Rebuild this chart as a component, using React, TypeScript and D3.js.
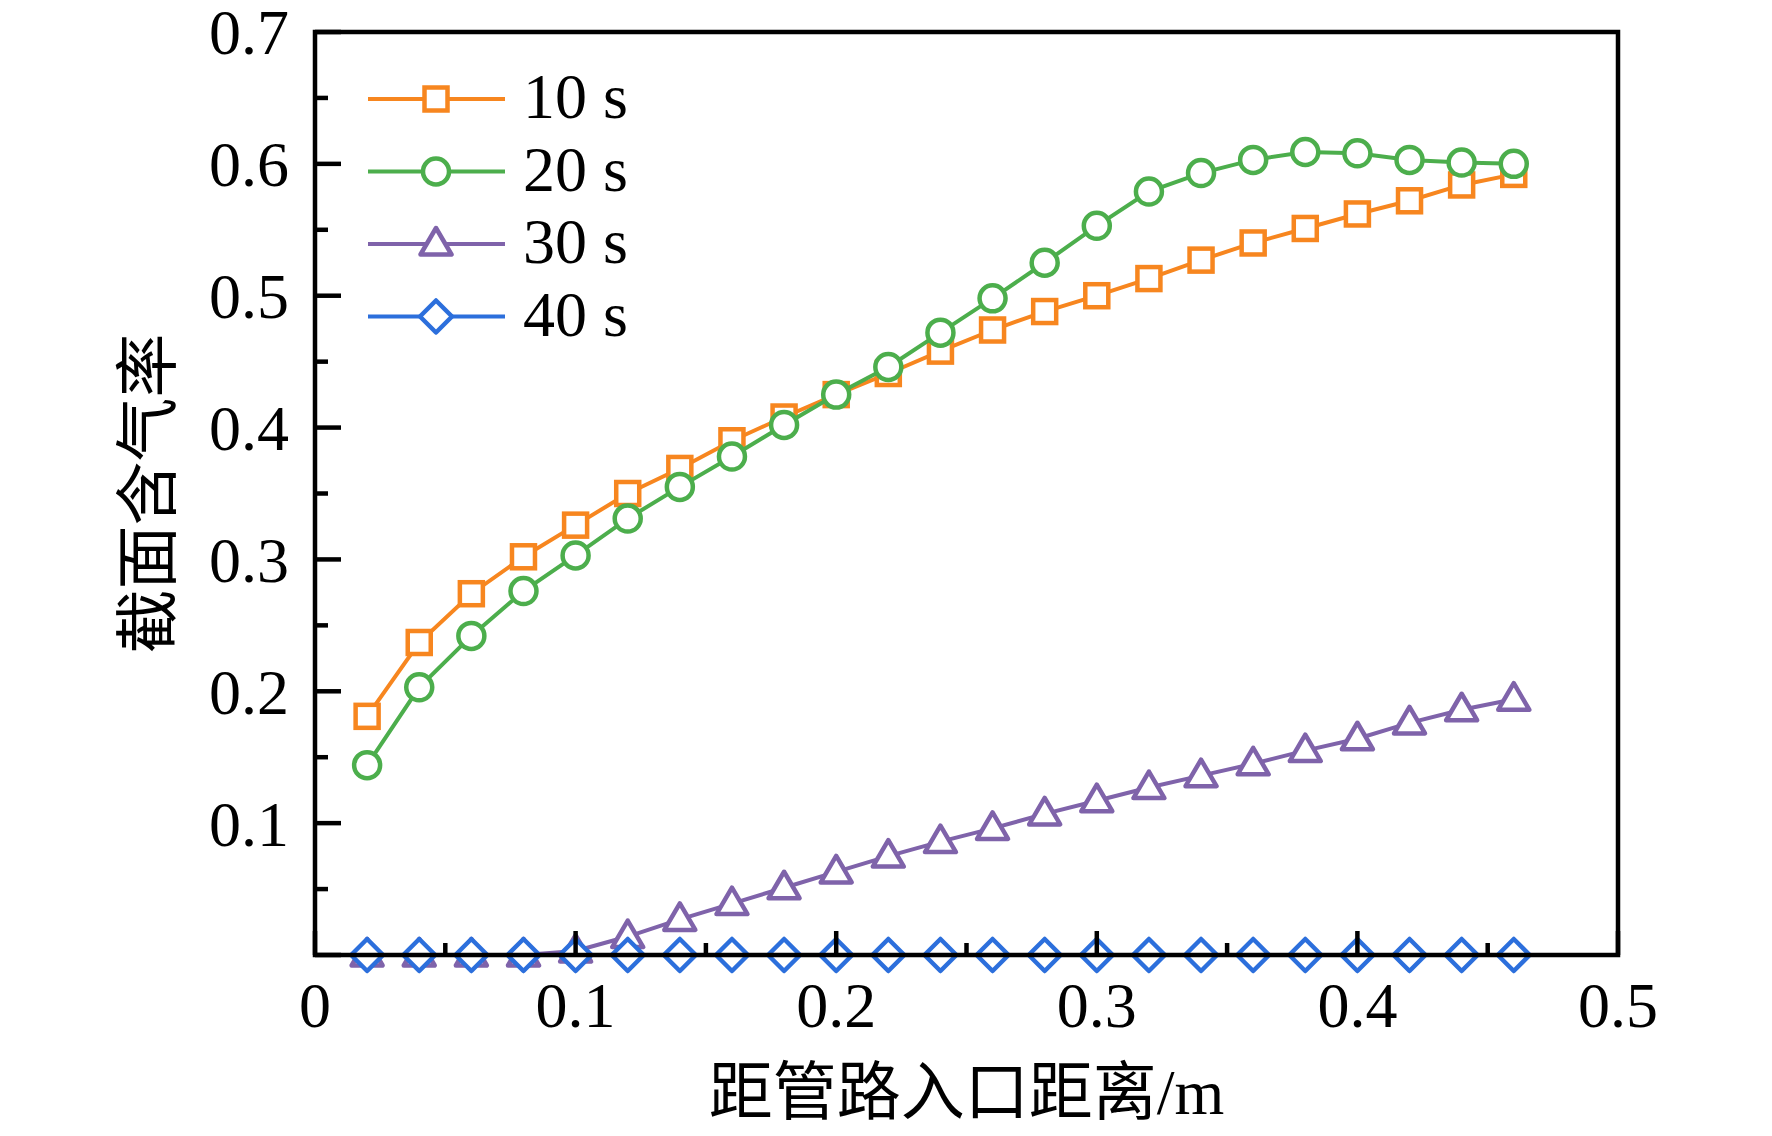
import { useEffect, useRef } from "react";
import * as d3 from "d3";

const distances = [
  0.02, 0.04, 0.06, 0.08, 0.1, 0.12, 0.14, 0.16, 0.18, 0.2, 0.22, 0.24,
  0.26, 0.28, 0.3, 0.32, 0.34, 0.36, 0.38, 0.4, 0.42, 0.44, 0.46,
];
const voidAt10s = [
  0.181, 0.237, 0.274, 0.302, 0.326, 0.35, 0.369, 0.39, 0.408, 0.425, 0.441,
  0.458, 0.474, 0.488, 0.5, 0.513, 0.527, 0.54, 0.551, 0.562, 0.572, 0.584, 0.592,
];
const voidAt20s = [
  0.144, 0.203, 0.242, 0.276, 0.303, 0.331, 0.355, 0.378, 0.402, 0.425, 0.446,
  0.472, 0.498, 0.525, 0.553, 0.579, 0.593, 0.603, 0.609, 0.608, 0.603, 0.601, 0.6,
];
const voidAt30s = [
  0, 0, 0, 0, 0.003, 0.014, 0.027, 0.039, 0.051, 0.063, 0.075, 0.086, 0.096,
  0.107, 0.117, 0.127, 0.136, 0.145, 0.155, 0.164, 0.176, 0.186, 0.194,
];
const voidAt40s = [
  0, 0, 0, 0, 0, 0, 0, 0, 0, 0, 0, 0, 0, 0, 0, 0, 0, 0, 0, 0, 0, 0, 0,
];
const seriesNames = ["10 s", "20 s", "30 s", "40 s"];
const xTicks = [0, 0.1, 0.2, 0.3, 0.4, 0.5];
const yTicks = [0.1, 0.2, 0.3, 0.4, 0.5, 0.6, 0.7];
const xTitle = "距管路入口距离/m";
const yTitle = "截面含气率";

const W = 1772;
const H = 1136;
const margin = { left: 315, right: 154, top: 32, bottom: 181 };
const FONT = "'Liberation Serif', 'Times New Roman', 'Noto Sans CJK SC', serif";

type Shape = "square" | "circle" | "triangle" | "diamond";

const series: { name: string; values: number[]; color: string; shape: Shape }[] = [
  { name: seriesNames[0], values: voidAt10s, color: "#f7861f", shape: "square" },
  { name: seriesNames[1], values: voidAt20s, color: "#4cae4c", shape: "circle" },
  { name: seriesNames[2], values: voidAt30s, color: "#7f63aa", shape: "triangle" },
  { name: seriesNames[3], values: voidAt40s, color: "#2c6fdc", shape: "diamond" },
];

function drawMarker(
  g: d3.Selection<SVGGElement, unknown, null, undefined>,
  shape: Shape,
  cx: number,
  cy: number,
  color: string
) {
  const sw = 4.5;
  if (shape === "square") {
    g.append("rect")
      .attr("x", cx - 11.5).attr("y", cy - 11.5)
      .attr("width", 23).attr("height", 23)
      .attr("fill", "white").attr("stroke", color).attr("stroke-width", sw);
  } else if (shape === "circle") {
    g.append("circle")
      .attr("cx", cx).attr("cy", cy).attr("r", 13)
      .attr("fill", "white").attr("stroke", color).attr("stroke-width", sw);
  } else if (shape === "triangle") {
    g.append("path")
      .attr("d", `M${cx},${cy - 16}L${cx + 15.5},${cy + 10.5}L${cx - 15.5},${cy + 10.5}Z`)
      .attr("fill", "white").attr("stroke", color).attr("stroke-width", sw)
      .attr("stroke-linejoin", "round");
  } else {
    g.append("path")
      .attr("d", `M${cx},${cy - 16}L${cx + 16},${cy}L${cx},${cy + 16}L${cx - 16},${cy}Z`)
      .attr("fill", "white").attr("stroke", color).attr("stroke-width", sw)
      .attr("stroke-linejoin", "round");
  }
}

export default function App() {
  const svgRef = useRef<SVGSVGElement>(null);

  useEffect(() => {
    if (!svgRef.current) return;
    const svg = d3.select(svgRef.current);
    svg.selectAll("*").remove();

    const x = d3.scaleLinear().domain([0, 0.5]).range([margin.left, W - margin.right]);
    const y = d3.scaleLinear().domain([0, 0.7]).range([H - margin.bottom, margin.top]);

    const plot = svg.append("g");

    series.forEach((s) => {
      const pts: [number, number][] = distances.map((d, i) => [d, s.values[i]]);
      const line = d3.line<[number, number]>().x((d) => x(d[0])).y((d) => y(d[1]));
      plot.append("path")
        .datum(pts)
        .attr("fill", "none")
        .attr("stroke", s.color)
        .attr("stroke-width", 4)
        .attr("d", line);
      const mg = plot.append("g");
      pts.forEach((p) => drawMarker(mg, s.shape, x(p[0]), y(p[1]), s.color));
    });

    // frame
    const [x0, x1] = x.range();
    const [y0, y1] = y.range();
    svg.append("rect")
      .attr("x", x0).attr("y", y1)
      .attr("width", x1 - x0).attr("height", y0 - y1)
      .attr("fill", "none").attr("stroke", "black").attr("stroke-width", 4.5);

    // ticks, inward on left and bottom
    const axes = svg.append("g").attr("stroke", "black").attr("stroke-width", 4.5);
    d3.range(0, 0.5001, 0.05).forEach((v, i) => {
      const len = i % 2 === 0 ? 24 : 12;
      axes.append("line")
        .attr("x1", x(v)).attr("x2", x(v))
        .attr("y1", y0).attr("y2", y0 - len);
    });
    d3.range(0, 0.7001, 0.05).forEach((v, i) => {
      const len = i % 2 === 0 ? 26 : 13;
      axes.append("line")
        .attr("x1", x0).attr("x2", x0 + len)
        .attr("y1", y(v)).attr("y2", y(v));
    });

    const text = svg.append("g").attr("font-family", FONT).attr("fill", "black");
    xTicks.forEach((v) => {
      text.append("text")
        .attr("x", x(v)).attr("y", y0 + 72)
        .attr("text-anchor", "middle").attr("font-size", 64)
        .text(d3.format("")(v));
    });
    yTicks.forEach((v) => {
      text.append("text")
        .attr("x", x0 - 26).attr("y", y(v))
        .attr("dy", "0.35em")
        .attr("text-anchor", "end").attr("font-size", 64)
        .text(v.toFixed(1));
    });

    text.append("text")
      .attr("x", (x0 + x1) / 2).attr("y", 1114)
      .attr("text-anchor", "middle").attr("font-size", 64)
      .text(xTitle);
    text.append("text")
      .attr("transform", `translate(170, ${(y0 + y1) / 2}) rotate(-90)`)
      .attr("text-anchor", "middle").attr("font-size", 64)
      .text(yTitle);

    // legend
    const legend = svg.append("g");
    series.forEach((s, i) => {
      const ly = 99 + i * 72.5;
      legend.append("line")
        .attr("x1", 368).attr("x2", 505)
        .attr("y1", ly).attr("y2", ly)
        .attr("stroke", s.color).attr("stroke-width", 4);
      const mg = legend.append("g");
      drawMarker(mg, s.shape, 436, ly, s.color);
      legend.append("text")
        .attr("x", 523).attr("y", ly)
        .attr("dy", "0.3em")
        .attr("font-family", FONT).attr("font-size", 64)
        .text(s.name);
    });
  }, []);

  return (
    <svg
      ref={svgRef}
      width={W}
      height={H}
      style={{ position: "absolute", left: 0, top: 0, background: "white" }}
    />
  );
}
